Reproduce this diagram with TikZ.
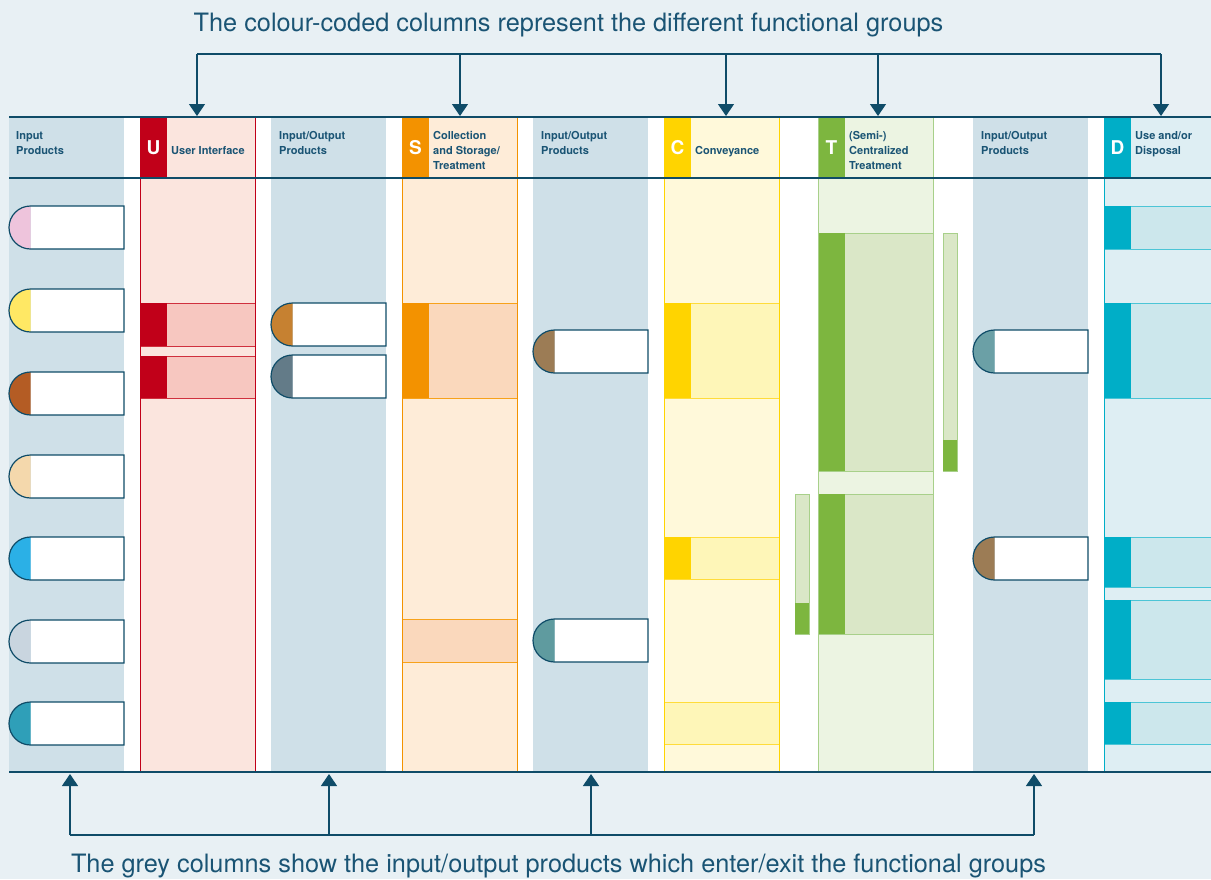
\documentclass[tikz,border=0pt]{standalone}
\usepackage{fontspec}
\setmainfont{TeX Gyre Heros}
\usetikzlibrary{arrows.meta}
\definecolor{bgc}{HTML}{E8F0F4}
\definecolor{dark}{HTML}{0F4C68}
\definecolor{txt}{HTML}{1A5474}
\definecolor{greyc}{HTML}{CFE0E8}
\definecolor{Ustrong}{HTML}{C10019}
\definecolor{Ufill}{HTML}{FBE5DE}
\definecolor{Ublock}{HTML}{F7C7C0}
\definecolor{Uline}{HTML}{D0303E}
\definecolor{Sstrong}{HTML}{F39200}
\definecolor{Sfill}{HTML}{FEECD8}
\definecolor{Sblock}{HTML}{FAD8BC}
\definecolor{Sline}{HTML}{F7A21B}
\definecolor{Cstrong}{HTML}{FFD400}
\definecolor{Cfill}{HTML}{FFF9DA}
\definecolor{Cblock}{HTML}{FEF6B8}
\definecolor{Cline}{HTML}{FFDC3A}
\definecolor{Tstrong}{HTML}{7DB63F}
\definecolor{Tfill}{HTML}{ECF4E2}
\definecolor{Tblock}{HTML}{DAE7C7}
\definecolor{Tline}{HTML}{A8D08A}
\definecolor{Dstrong}{HTML}{00AEC7}
\definecolor{Dfill}{HTML}{DEEEF3}
\definecolor{Dblock}{HTML}{CCE7EC}
\definecolor{Dline}{HTML}{4CC5D6}
\definecolor{p1}{HTML}{EEC4DC}
\definecolor{p2}{HTML}{FFE864}
\definecolor{p3}{HTML}{B45C24}
\definecolor{p4}{HTML}{F4D8AC}
\definecolor{p5}{HTML}{2BB0E6}
\definecolor{p6}{HTML}{C9D5DF}
\definecolor{p7}{HTML}{2F9FB8}
\definecolor{q1}{HTML}{C68131}
\definecolor{q2}{HTML}{637B88}
\definecolor{q3}{HTML}{9C7C55}
\definecolor{q4}{HTML}{5F9B9F}
\definecolor{q5}{HTML}{6BA0A6}
\tikzset{
  conn/.style={draw=dark, line width=1.3pt},
  arr/.style={draw=dark, line width=1.3pt, -{Triangle[width=16pt,length=12pt]}},
  bigline/.style={draw=dark, line width=2.5pt},
  pillline/.style={draw=dark, line width=1.2pt},
  headtxt/.style={anchor=north west, inner sep=0pt, align=left, text=txt,
    font=\bfseries\fontsize{11}{15}\selectfont},
  letter/.style={inner sep=0pt, text=white, font=\bfseries\fontsize{19}{19}\selectfont},
  caption/.style={anchor=base, inner sep=0pt, text=txt, font=\fontsize{25.3}{28}\selectfont}
}
\newcommand\pill[4]{%
  \fill[white] (#1+21.5,#2) -- (#1+115,#2) -- (#1+115,#2+43) -- (#1+21.5,#2+43) -- cycle;
  \fill[#3] (#1+21.5,#2) arc[start angle=90,end angle=270,radius=21.5pt] -- cycle;
  \draw[pillline] (#1+21.5,#2) -- (#1+115,#2) -- (#1+115,#2+43) -- (#1+21.5,#2+43)
     arc[start angle=270,end angle=90,radius=21.5pt] -- cycle;
  \coordinate (#4) at (#1+57.5,#2+21.5);
}
% block with coloured key part: x, y1, y2, strong, blockfill, line
\newcommand\keyblock[6]{%
  \filldraw[fill=#5, draw=#6, line width=1pt] (#1,#2) rectangle (#1+115,#3);
  \fill[#4] (#1,#2) rectangle (#1+27,#3);
}
\newcommand\plainblock[5]{%
  \filldraw[fill=#4, draw=#5, line width=1pt] (#1,#2) rectangle (#1+115,#3);
}
\begin{document}
\begin{tikzpicture}[x=1pt,y=-1pt]
\useasboundingbox (0,0) rectangle (1211,879);
\fill[bgc] (0,0) rectangle (1211,879);
\fill[white] (9,117) rectangle (1211,772);
% grey columns
\foreach \x in {9,271,533,973} {\fill[greyc] (\x,117) rectangle (\x+115,772);}
% functional columns
\fill[Ufill] (140,117) rectangle (255,772);
\fill[Sfill] (402,117) rectangle (517,772);
\fill[Cfill] (664,117) rectangle (779,772);
\fill[Tfill] (818,117) rectangle (933,772);
\fill[Dfill] (1104,117) rectangle (1211,772);
% letter boxes
\fill[Ustrong] (140,117) rectangle (167,178);
\fill[Sstrong] (402,117) rectangle (429,178);
\fill[Cstrong] (664,117) rectangle (691,178);
\fill[Tstrong] (818,117) rectangle (845,178);
\fill[Dstrong] (1104,117) rectangle (1131,178);
% blocks U
\keyblock{140}{303}{346}{Ustrong}{Ublock}{Uline}
\keyblock{140}{356}{398}{Ustrong}{Ublock}{Uline}
% blocks S
\keyblock{402}{303}{398}{Sstrong}{Sblock}{Sline}
\plainblock{402}{619}{662}{Sblock}{Sline}
% blocks C
\keyblock{664}{303}{398}{Cstrong}{Cblock}{Cline}
\keyblock{664}{537}{579}{Cstrong}{Cblock}{Cline}
\plainblock{664}{702}{744}{Cblock}{Cline}
% blocks T
\keyblock{818}{233}{471}{Tstrong}{Tblock}{Tline}
\keyblock{818}{494}{634}{Tstrong}{Tblock}{Tline}
\filldraw[fill=Tblock, draw=Tline, line width=1pt] (943,233) rectangle (957,471);
\fill[Tstrong] (943,440) rectangle (957,471);
\filldraw[fill=Tblock, draw=Tline, line width=1pt] (795,494) rectangle (809,634);
\fill[Tstrong] (795,603) rectangle (809,634);
% blocks D
\foreach \a/\b in {206/249,303/398,537/587,600/679,702/744}{
  \filldraw[fill=Dblock, draw=Dline, line width=1pt] (1104,\a) rectangle (1213,\b);
  \fill[Dstrong] (1104,\a) rectangle (1131,\b);
}
% column outlines
\draw[Ustrong, line width=1pt] (140,117) rectangle (255,772);
\draw[Sstrong, line width=1pt] (402,117) rectangle (517,772);
\draw[Cstrong, line width=1pt] (664,117) rectangle (779,772);
\draw[Tline, line width=1pt] (818,117) rectangle (933,772);
\draw[Dstrong, line width=1pt] (1104,117) -- (1104,772);
% pills
\pill{9}{206}{p1}{pa}
\pill{9}{289}{p2}{pb}
\pill{9}{372}{p3}{pc}
\pill{9}{455}{p4}{pd}
\pill{9}{537}{p5}{pe}
\pill{9}{620}{p6}{pf}
\pill{9}{702}{p7}{pg}
\pill{271}{303}{q1}{ph}
\pill{271}{355}{q2}{pi}
\pill{533}{330}{q3}{pj}
\pill{533}{619}{q4}{pk}
\pill{973}{330}{q5}{pl}
\pill{973}{537}{q3}{pm}
% main horizontal lines
\draw[bigline] (9,117) -- (1211,117);
\draw[dark, line width=2pt] (9,178) -- (1211,178);
\draw[bigline] (9,772) -- (1211,772);
% header texts
\node[headtxt] (hIn) at (16,131) {Input\\Products};
\node[letter] (lU) at (153.5,148) {U};
\node[headtxt] (hU) at (171,146) {User Interface};
\node[headtxt] (hIO1) at (279,131) {Input/Output\\Products};
\node[letter] (lS) at (415.5,148) {S};
\node[headtxt] (hS) at (433,131) {Collection\\and Storage/\\Treatment};
\node[headtxt] (hIO2) at (541,131) {Input/Output\\Products};
\node[letter] (lC) at (677.5,148) {C};
\node[headtxt] (hC) at (695,146) {Conveyance};
\node[letter] (lT) at (831.5,148) {T};
\node[headtxt] (hT) at (849,131) {(Semi-)\\Centralized\\Treatment};
\node[headtxt] (hIO3) at (981,131) {Input/Output\\Products};
\node[letter] (lD) at (1117.5,148) {D};
\node[headtxt] (hD) at (1135,131) {Use and/or\\Disposal};
% captions
\node[caption] (capTop) at (568.5,31) {The colour-coded columns represent the different functional groups};
\node[caption] (capBot) at (558.5,872) {The grey columns show the input/output products which enter/exit the functional groups};
% top connectors
\coordinate (t1) at (197,54); \coordinate (t2) at (460,54); \coordinate (t3) at (726,54);
\coordinate (t4) at (878,54); \coordinate (t5) at (1161,54);
\coordinate (e1) at (197,116); \coordinate (e2) at (460,116); \coordinate (e3) at (726,116);
\coordinate (e4) at (878,116); \coordinate (e5) at (1161,116);
\draw[conn] (t1) -- (t5);
\foreach \i in {1,...,5} {\draw[arr] (t\i) -- (e\i);}
% bottom connectors
\coordinate (b1) at (70,835); \coordinate (b2) at (329,835); \coordinate (b3) at (591,835);
\coordinate (b4) at (1034,835);
\coordinate (f1) at (70,774); \coordinate (f2) at (329,774); \coordinate (f3) at (591,774);
\coordinate (f4) at (1034,774);
\draw[conn] (b1) -- (b4);
\foreach \i in {1,...,4} {\draw[arr] (b\i) -- (f\i);}
\end{tikzpicture}
\end{document}
